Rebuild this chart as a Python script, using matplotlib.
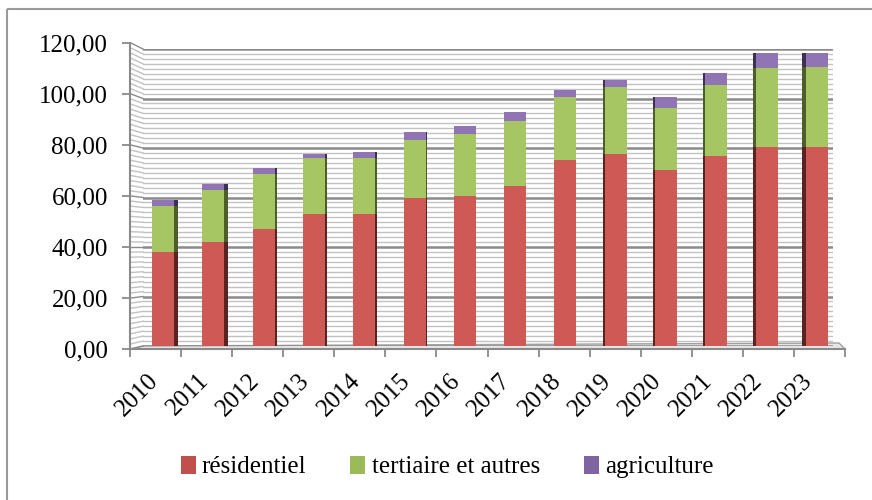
import numpy as np
import matplotlib
matplotlib.use("Agg")
import matplotlib.pyplot as plt
from matplotlib.patches import Patch, Rectangle, Polygon

plt.rcParams['font.family'] = ['Liberation Serif', 'DejaVu Serif']

# data
years = ['2010', '2011', '2012', '2013', '2014', '2015', '2016',
         '2017', '2018', '2019', '2020', '2021', '2022', '2023']
residentiel = [38.0, 42.0, 47.2, 53.3, 53.3, 59.8, 60.6,
               64.6, 75.0, 77.4, 71.0, 76.6, 80.6, 80.6]
tertiaire = [18.6, 20.9, 22.2, 22.6, 22.6, 23.3, 24.9,
             26.5, 25.7, 27.4, 25.1, 29.0, 31.6, 32.3]
agriculture = [2.3, 2.4, 2.6, 1.5, 2.3, 3.2, 3.2,
               3.4, 2.7, 2.7, 4.7, 4.8, 6.2, 5.5]
series_names = ['résidentiel', 'tertiaire et autres', 'agriculture']
yticks_major = [0, 20, 40, 60, 80, 100, 120]

face_cols = ['#CD5A55', '#A5C662', '#9074B3']
side_cols = ['#5a2220', '#4c5e2a', '#3e2f55']
legend_cols = ['#C0504D', '#9BBB59', '#8064A2']

W, H = 872, 500
fig = plt.figure(figsize=(W / 100, H / 100), dpi=100)


def px_axes(x0, x1, ytop, ybot, **kw):
    return fig.add_axes([x0 / W, 1 - ybot / H, (x1 - x0) / W, (ybot - ytop) / H], **kw)


# overlay in pixel coords for the 3D decorations
ov = px_axes(0, W, 0, H, zorder=0)
ov.set_xlim(0, W)
ov.set_ylim(H, 0)
ov.axis('off')

# back wall with gridlines
back = (143, 833, 49, 346)
front = (130, 845, 43, 349)
ax_back = px_axes(*back, zorder=1)
ax_back.set_ylim(0, 120)
ax_back.set_xlim(0, 1)
ax_back.patch.set_alpha(0)
for v in np.arange(0, 121, 2):
    major = v % 20 == 0
    ax_back.axhline(v, color='#8a8a8a' if major else '#c2c2c2',
                    lw=1.8 if major else 1.0, zorder=0)
for s in ax_back.spines.values():
    s.set_visible(False)
ax_back.set_xticks([])
ax_back.set_yticks([])


def yf(v):
    return front[3] - v * (front[3] - front[2]) / 120


def yb(v):
    return back[3] - v * (back[3] - back[2]) / 120


for v in np.arange(0, 121, 2):
    ov.plot([front[0] + 1, back[0]], [yf(v), yb(v)],
            color='#8a8a8a' if v % 20 == 0 else '#c2c2c2', lw=1.0)

# floor
ov.add_patch(Polygon([(front[0], front[3]), (front[1], front[3]),
                      (back[1] + 6, back[3] - 3), (back[0], back[3])],
                     closed=True, facecolor='#e6e6e6', edgecolor='#a0a0a0', lw=1.0))

# outer border
ov.add_patch(Rectangle((7, 9), W, H, fill=False, edgecolor='#9a9a9a', lw=1.5))

# bars
ax_bar = px_axes(138, 842, back[2], back[3], zorder=3)
ax_bar.patch.set_alpha(0)
ax_bar.set_xlim(-0.5, len(years) - 0.5)
ax_bar.set_ylim(0, 120)
x = np.arange(len(years))
bw = 0.44
bottom = np.zeros(len(years))
for vals, fc, sc in zip([residentiel, tertiaire, agriculture], face_cols, side_cols):
    vals = np.array(vals)
    side = 0.011 * np.abs(x - 6.6)
    side_x = np.where(x < 6.6, x + bw / 2 + side / 2, x - bw / 2 - side / 2)
    ax_bar.bar(side_x, vals, side, bottom=bottom, color=sc, lw=0)
    ax_bar.bar(x, vals, bw, bottom=bottom, color=fc, lw=0)
    bottom += vals
for s in ax_bar.spines.values():
    s.set_visible(False)
ax_bar.set_yticks([])
ax_bar.set_xticks(x)
ax_bar.set_xticklabels(years, rotation=45, ha='right', fontsize=18)
ax_bar.tick_params(axis='x', length=0, pad=17)

# front axes: spines, ticks and y labels
ax_f = px_axes(*front, zorder=2)
ax_f.patch.set_alpha(0)
ax_f.set_ylim(0, 120)
ax_f.set_xlim(0, len(years))
ax_f.spines['top'].set_visible(False)
ax_f.spines['right'].set_visible(False)
ax_f.spines['left'].set_color('#8a8a8a')
ax_f.spines['bottom'].set_color('#8a8a8a')
ax_f.spines['left'].set_linewidth(1.5)
ax_f.spines['bottom'].set_linewidth(1.5)
ax_f.set_yticks(yticks_major)
ax_f.set_yticklabels([f"{v:.2f}".replace('.', ',') for v in yticks_major], fontsize=18)
ax_f.set_xticks(np.arange(len(years) + 1))
ax_f.set_xticklabels([])
ax_f.tick_params(axis='y', length=6, width=1.3, color='#8a8a8a', pad=10)
ax_f.tick_params(axis='x', length=6, width=1.3, color='#8a8a8a')

handles = [Patch(facecolor=c, edgecolor='none') for c in legend_cols]
fig.legend(handles, series_names, loc='center', bbox_to_anchor=(0.5126, 0.066),
           ncol=3, frameon=False, fontsize=18, handlelength=0.6, handleheight=0.75,
           handletextpad=0.25, columnspacing=1.75)

fig.savefig('out.png', dpi=100)
